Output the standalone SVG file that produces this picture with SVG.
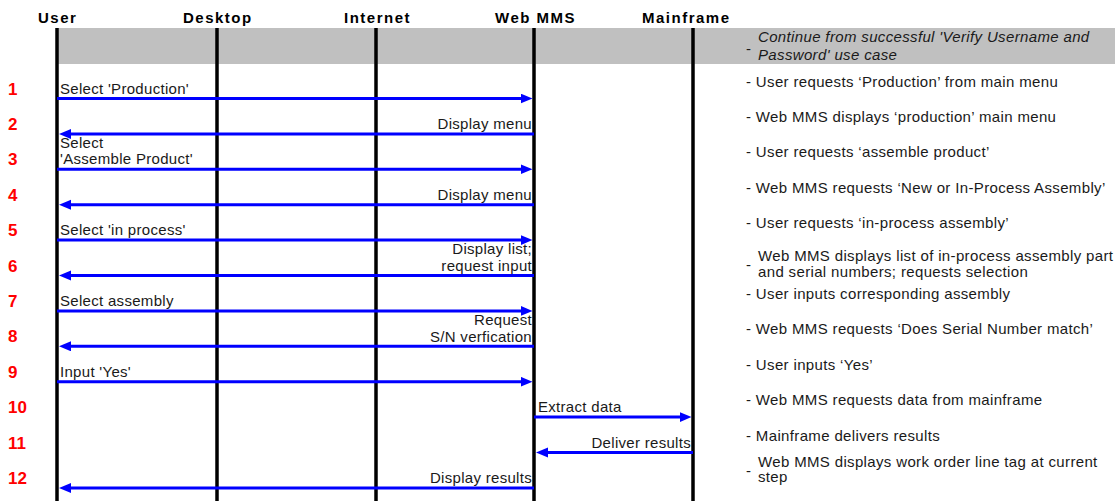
<svg xmlns="http://www.w3.org/2000/svg" width="1115" height="501" viewBox="0 0 1115 501">
  <style>
    .hdr { font-family: "Liberation Sans", Arial, sans-serif; font-weight: bold; font-size: 15px; letter-spacing: 1.5px; fill: #000; }
    .num { font-family: "Liberation Sans", Arial, sans-serif; font-weight: bold; font-size: 17px; fill: #ff0000; }
    .lbl { font-family: "Liberation Sans", Arial, sans-serif; font-size: 15px; letter-spacing: 0.3px; fill: #1a1a1a; }
    .lbl.r { text-anchor: end; }
    .note { font-family: "Liberation Sans", Arial, sans-serif; font-size: 15px; letter-spacing: 0.35px; fill: #1a1a1a; }
    .note.it { font-style: italic; }
    .life { stroke: #000; stroke-width: 3.5; }
    .msg { stroke: #0000ff; stroke-width: 3; fill: none; marker-end: url(#head); }
  </style>
  <defs>
    <marker id="head" markerUnits="userSpaceOnUse" markerWidth="13" markerHeight="11" refX="2" refY="5" orient="auto">
      <path d="M0,0 L12,5 L0,10 z" fill="#0000ff"/>
    </marker>
  </defs>

  <rect width="1115" height="501" fill="#fff"/>

  <!-- shaded precondition band -->
  <rect x="57" y="28" width="1058" height="36" fill="#c0c0c0"/>

  <!-- lifelines -->
  <g id="user">
    <text class="hdr" x="38" y="23">User</text>
    <line class="life" x1="57" y1="28" x2="57" y2="501"/>
  </g>
  <g id="desktop">
    <text class="hdr" x="183" y="23">Desktop</text>
    <line class="life" x1="217" y1="28" x2="217" y2="501"/>
  </g>
  <g id="internet">
    <text class="hdr" x="344" y="23">Internet</text>
    <line class="life" x1="376" y1="28" x2="376" y2="501"/>
  </g>
  <g id="webmms">
    <text class="hdr" x="495" y="23">Web MMS</text>
    <line class="life" x1="534" y1="28" x2="534" y2="501"/>
  </g>
  <g id="mainframe">
    <text class="hdr" x="642" y="23">Mainframe</text>
    <line class="life" x1="693" y1="28" x2="693" y2="501"/>
  </g>

  <!-- step numbers -->
  <g id="steps">
    <text class="num" x="8" y="94.5">1</text>
    <text class="num" x="8" y="130">2</text>
    <text class="num" x="8" y="165">3</text>
    <text class="num" x="8" y="201">4</text>
    <text class="num" x="8" y="236">5</text>
    <text class="num" x="8" y="271.5">6</text>
    <text class="num" x="8" y="307">7</text>
    <text class="num" x="8" y="342">8</text>
    <text class="num" x="8" y="378">9</text>
    <text class="num" x="8" y="413">10</text>
    <text class="num" x="8" y="448.5">11</text>
    <text class="num" x="8" y="484">12</text>
  </g>

  <!-- messages -->
  <g id="connectors">
    <line class="msg" x1="57" y1="98.5" x2="522.5" y2="98.5"/>
    <line class="msg" x1="534" y1="133.9" x2="69" y2="133.9"/>
    <line class="msg" x1="57" y1="169.3" x2="522.5" y2="169.3"/>
    <line class="msg" x1="534" y1="204.7" x2="69" y2="204.7"/>
    <line class="msg" x1="57" y1="240.1" x2="522.5" y2="240.1"/>
    <line class="msg" x1="534" y1="275.5" x2="69" y2="275.5"/>
    <line class="msg" x1="57" y1="310.9" x2="522.5" y2="310.9"/>
    <line class="msg" x1="534" y1="346.3" x2="69" y2="346.3"/>
    <line class="msg" x1="57" y1="381.7" x2="522.5" y2="381.7"/>
    <line class="msg" x1="534" y1="417.1" x2="681.5" y2="417.1"/>
    <line class="msg" x1="693" y1="452.5" x2="546" y2="452.5"/>
    <line class="msg" x1="534" y1="487.9" x2="69" y2="487.9"/>
  </g>

  <!-- message labels -->
  <g id="labels">
    <text class="lbl" x="60" y="93.5">Select 'Production'</text>
    <text class="lbl r" x="532" y="129">Display menu</text>
    <text class="lbl" x="60" y="147.5">Select</text>
    <text class="lbl" x="60" y="164">'Assemble Product'</text>
    <text class="lbl r" x="532" y="200">Display menu</text>
    <text class="lbl" x="60" y="235">Select 'in process'</text>
    <text class="lbl r" x="532" y="254">Display list;</text>
    <text class="lbl r" x="532" y="270.5">request input</text>
    <text class="lbl" x="60" y="306">Select assembly</text>
    <text class="lbl r" x="532" y="325">Request</text>
    <text class="lbl r" x="532" y="341.5">S/N verfication</text>
    <text class="lbl" x="60" y="376.5">Input 'Yes'</text>
    <text class="lbl" x="538" y="412">Extract data</text>
    <text class="lbl r" x="691" y="447.5">Deliver results</text>
    <text class="lbl r" x="532" y="483">Display results</text>
  </g>

  <!-- step descriptions -->
  <g id="notes">
    <text class="note" x="746" y="54">-</text>
    <text class="note it" x="758" y="42">Continue from successful 'Verify Username and</text>
    <text class="note it" x="758" y="59.5">Password' use case</text>
    <text class="note" x="746" y="86.5">- User requests ‘Production’ from main menu</text>
    <text class="note" x="746" y="122">- Web MMS displays ‘production’ main menu</text>
    <text class="note" x="746" y="157">- User requests ‘assemble product’</text>
    <text class="note" x="746" y="193">- Web MMS requests ‘New or In-Process Assembly’</text>
    <text class="note" x="746" y="228">- User requests ‘in-process assembly’</text>
    <text class="note" x="746" y="270">-</text>
    <text class="note" x="758" y="261">Web MMS displays list of in-process assembly part</text>
    <text class="note" x="758" y="276.5">and serial numbers; requests selection</text>
    <text class="note" x="746" y="299">- User inputs corresponding assembly</text>
    <text class="note" x="746" y="334">- Web MMS requests ‘Does Serial Number match’</text>
    <text class="note" x="746" y="370">- User inputs ‘Yes’</text>
    <text class="note" x="746" y="405">- Web MMS requests data from mainframe</text>
    <text class="note" x="746" y="440.5">- Mainframe delivers results</text>
    <text class="note" x="746" y="476">-</text>
    <text class="note" x="758" y="467">Web MMS displays work order line tag at current</text>
    <text class="note" x="758" y="482">step</text>
  </g>
</svg>
